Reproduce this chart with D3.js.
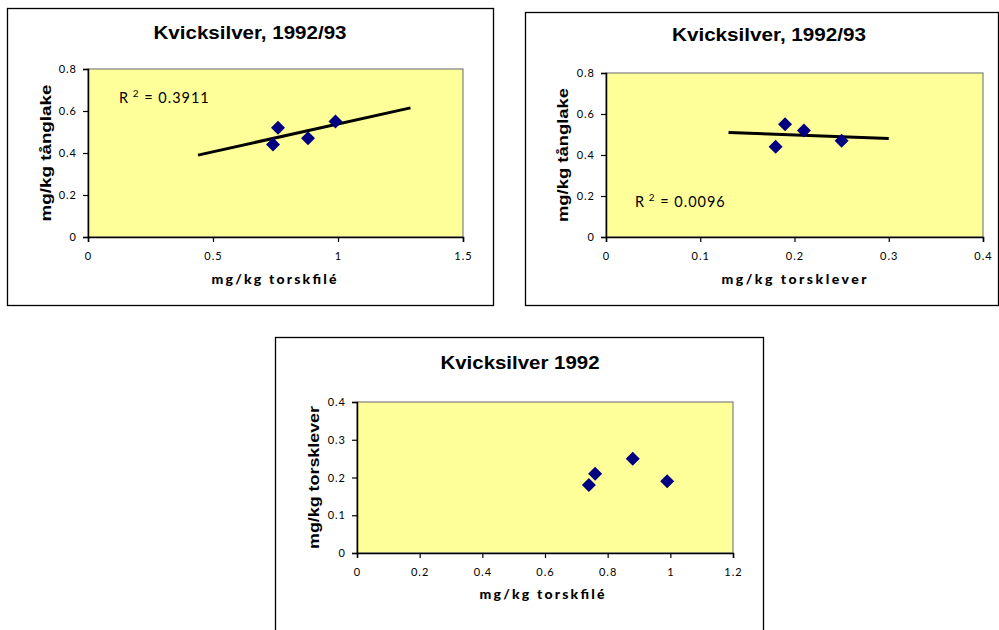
<!DOCTYPE html>
<html>
<head>
<meta charset="utf-8">
<script src="https://cdn.jsdelivr.net/npm/d3@7"></script>
<style>
  body { margin: 0; background: #fff; }
  svg { display: block; }
</style>
</head>
<body>
<svg id="chart" width="999" height="630"></svg>
<script>
var w = 999;
var h = 630;

// measured values, same four samples in all three panels
var filé = [0.74, 0.76, 0.88, 0.99];
var lever = [0.18, 0.21, 0.25, 0.19];
var tånglake = [0.44, 0.52, 0.47, 0.55];

// trendlines as drawn (start and end points)
var trend1 = [[0.44, 0.39], [1.29, 0.615]];
var trend2 = [[0.13, 0.51], [0.30, 0.48]];

var ticksX1 = [0, 0.5, 1, 1.5];
var ticksX2 = [0, 0.1, 0.2, 0.3, 0.4];
var ticksX3 = [0, 0.2, 0.4, 0.6, 0.8, 1, 1.2];
var ticksY12 = [0, 0.2, 0.4, 0.6, 0.8];
var ticksY3 = [0, 0.1, 0.2, 0.3, 0.4];

var svg = d3.select("#chart");

var panels = [
  {
    box: [7, 8, 486, 297], plot: [88, 463, 69, 237],
    title: "Kvicksilver, 1992/93", titleX: 250, titleY: 39, titleW: 193,
    xlab: "mg/kg torskfilé", xlabX: 274, xlabY: 284, xlabW: 125,
    ylab: "mg/kg tånglake", ylabX: 51, ylabW: 137,
    xs: filé, ys: tånglake, xdom: [0, 1.5], ydom: [0, 0.8], xt: ticksX1, yt: ticksY12,
    trend: trend1, r2: "0.3911", r2x: 119, r2y: 103
  },
  {
    box: [525, 12, 473, 293], plot: [606, 983, 73, 237],
    title: "Kvicksilver, 1992/93", titleX: 769, titleY: 41, titleW: 194,
    xlab: "mg/kg torsklever", xlabX: 794, xlabY: 284, xlabW: 145,
    ylab: "mg/kg tånglake", ylabX: 568, ylabW: 134,
    xs: lever, ys: tånglake, xdom: [0, 0.4], ydom: [0, 0.8], xt: ticksX2, yt: ticksY12,
    trend: trend2, r2: "0.0096", r2x: 635, r2y: 207
  },
  {
    box: [275, 337, 488, 310], plot: [357, 733, 402, 553],
    title: "Kvicksilver 1992", titleX: 520, titleY: 369, titleW: 159,
    xlab: "mg/kg torskfilé", xlabX: 542, xlabY: 599, xlabW: 125,
    ylab: "mg/kg torsklever", ylabX: 319, ylabW: 143,
    xs: filé, ys: lever, xdom: [0, 1.2], ydom: [0, 0.4], xt: ticksX3, yt: ticksY3,
    trend: null
  }
];

panels.forEach(drawPanel);

function drawPanel(p) {
  var g = svg.append("g");
  var l = p.plot[0], r = p.plot[1], t = p.plot[2], b = p.plot[3];

  // outer frame
  g.append("rect")
    .attr("x", p.box[0] + 0.5).attr("y", p.box[1] + 0.5)
    .attr("width", p.box[2]).attr("height", p.box[3])
    .attr("fill", "#fff").attr("stroke", "#000").attr("stroke-width", 1.3);

  var x = d3.scaleLinear().domain(p.xdom).range([l, r]);
  var y = d3.scaleLinear().domain(p.ydom).range([b, t]);

  // plot area
  g.append("rect")
    .attr("x", l).attr("y", t).attr("width", r - l).attr("height", b - t)
    .attr("fill", "#ffff99").attr("stroke", "#808080").attr("stroke-width", 1.2);

  var fmt = d3.format("~g");
  var yAxis = g.append("g")
    .attr("transform", "translate(" + l + ",0)")
    .call(d3.axisLeft(y).tickValues(p.yt).tickSize(5).tickPadding(6).tickFormat(fmt));
  var xAxis = g.append("g")
    .attr("transform", "translate(0," + b + ")")
    .call(d3.axisBottom(x).tickValues(p.xt).tickSize(5).tickPadding(10).tickFormat(fmt));
  [xAxis, yAxis].forEach(function (a) {
    a.select(".domain").attr("stroke", "#000").attr("stroke-width", 1.5);
    a.selectAll(".tick line").attr("stroke", "#000").attr("stroke-width", 1.2);
    a.selectAll(".tick text")
      .attr("fill", "#000")
      .style("font-family", "Lato, 'DejaVu Sans', sans-serif")
      .style("font-size", "11px")
      .style("letter-spacing", "1px");
  });

  // trendline
  if (p.trend) {
    g.append("line")
      .attr("x1", x(p.trend[0][0])).attr("y1", y(p.trend[0][1]))
      .attr("x2", x(p.trend[1][0])).attr("y2", y(p.trend[1][1]))
      .attr("stroke", "#000").attr("stroke-width", 3);
  }

  // diamond markers
  var s = 7;
  g.selectAll("path.pt")
    .data(p.xs.map(function (v, i) { return [v, p.ys[i]]; }))
    .enter()
    .append("path")
    .attr("class", "pt")
    .attr("d", function (d) {
      var cx = x(d[0]), cy = y(d[1]);
      return "M" + cx + "," + (cy - s) + "L" + (cx + s) + "," + cy +
        "L" + cx + "," + (cy + s) + "L" + (cx - s) + "," + cy + "Z";
    })
    .attr("fill", "#000080");

  // R squared
  if (p.r2) {
    var rt = g.append("text")
      .attr("x", p.r2x).attr("y", p.r2y)
      .style("font-family", "Lato, 'DejaVu Sans', sans-serif")
      .style("font-size", "14.5px")
      .style("letter-spacing", "1px")
      .attr("fill", "#000");
    rt.append("tspan").text("R");
    rt.append("tspan").attr("dy", -6).style("font-size", "10px").text(" 2");
    rt.append("tspan").attr("dy", 6).text(" = " + p.r2);
  }

  // titles
  g.append("text")
    .attr("x", p.titleX).attr("y", p.titleY)
    .attr("text-anchor", "middle")
    .attr("textLength", p.titleW).attr("lengthAdjust", "spacingAndGlyphs")
    .style("font-family", "'Liberation Sans', Arial, sans-serif")
    .style("font-weight", "bold").style("font-size", "19px")
    .text(p.title);

  g.append("text")
    .attr("x", p.xlabX).attr("y", p.xlabY)
    .attr("text-anchor", "middle")
    .attr("textLength", p.xlabW).attr("lengthAdjust", "spacing")
    .style("font-family", "Lato, 'DejaVu Sans', sans-serif")
    .style("font-weight", "900").style("font-size", "14px")
    .text(p.xlab);

  g.append("text")
    .attr("transform", "translate(" + p.ylabX + "," + ((t + b) / 2) + ") rotate(-90)")
    .attr("text-anchor", "middle")
    .attr("textLength", p.ylabW).attr("lengthAdjust", "spacingAndGlyphs")
    .style("font-family", "'Liberation Sans', Arial, sans-serif")
    .style("font-weight", "bold").style("font-size", "15.5px")
    .text(p.ylab);
}
</script>
</body>
</html>
